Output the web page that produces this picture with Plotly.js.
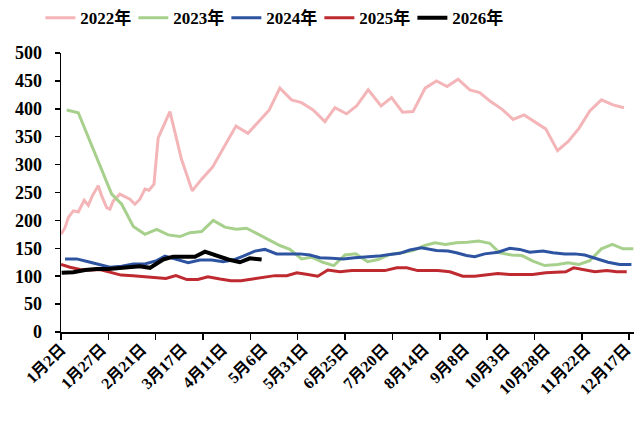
<!DOCTYPE html>
<html><head><meta charset="utf-8">
<script src="https://cdn.plot.ly/plotly-3.0.1.min.js"></script>
<style>html,body{margin:0;padding:0;background:#fff}#chart{width:643px;height:421px}</style>
</head><body><div id="chart"></div>
<script>
// x values are day offsets from 1月2日
const tickLabels = ["1月2日","1月27日","2月21日","3月17日","4月11日","5月6日","5月31日","6月25日","7月20日","8月14日","9月8日","10月3日","10月28日","11月22日","12月17日"];

const days2022 = [0,2.5,4.5,7.6,10.7,14.4,16.9,19.4,23.1,25.2,28.3,30.3,32.4,36.5,38.6,42.7,45.8,48.9,52,54.5,57.6,60.2,67.5,74.6,81.3,87.1,93.8,101.5,108.4,115.8,122.2,129,135.6,142.8,149,156.2,163.5,169.7,176.9,183.1,190.3,198.3,204.8,211.6,218.1,225.6,232.6,239.2,246,253.3,259.4,266.2,273.3,280.1,286.9,293.5,300.3,307.6,314.1,320.9,327.6,334.8,342,348.8];
const vals2022 = [175,187,205,217,215,236,227,244,262,244,223,220,235,247,244,238,229,238,256,254,265,348,395,310,253,274,295,334,369,356,377,398,437,416,411,398,377,402,391,405,434,405,420,394,395,437,450,440,453,434,429,413,399,381,389,376,364,325,341,365,396,416,407,402];

const days2023 = [3.5,10.7,31.4,37.6,44.8,52,59.3,66.4,73.7,79.9,87.1,94.3,101.5,108.5,115,122,128.8,135.6,141.8,149,155.2,162.2,169,175.9,182.7,189.9,196.5,203.7,211,218.1,225.4,231.6,238.2,245,251.8,258.8,265.6,271.8,279.1,285.6,292.4,299.7,307.6,314.1,320.9,327.6,334.8,341.6,348.2,354.6];
const vals2023 = [398,393,247,229,189,175,184,174,171,178,180,200,188,184,186,175,165,155,148,131,134,125,119,138,140,126,130,139,142,146,155,160,157,160,161,163,159,142,138,137,127,119,121,124,121,128,149,157,149,149];

const days2024 = [2.5,9.7,16.9,24.1,30.3,37.6,44.8,52,59.3,64.4,71.6,78.8,86.1,93.3,100.5,107.7,112.9,120.1,126.3,133.6,140.7,148,154.2,160.4,167.6,174.8,182,189.3,196.5,203.7,209.9,216.1,223.3,232.6,239.8,245,251.2,256.3,262.5,270.8,278,284.2,290.4,298.6,304.8,312.1,318.3,324.5,331.7,338.9,346.1,353.4];
const vals2024 = [131,131,126,120,116,118,122,122,128,136,130,124,129,129,126,130,136,145,148,140,140,140,138,133,132,131,133,134,136,139,141,147,151,146,145,142,137,135,140,143,150,148,143,145,142,140,140,138,132,125,121,121];

const days2025 = [0,5.6,11.8,18,24.1,30.3,37.2,44.6,52,58.8,65,71.2,78,84.8,91,98.5,105.3,111.5,118.3,125.1,132.5,139.9,146.1,152.9,159.1,165.3,172.8,180.2,187,194.4,200.6,208,214.2,221,226.6,233.4,240.9,248.9,256.3,263.8,270.6,278,285.4,292.2,300.3,307.7,312.7,317.6,324.5,330.7,338.1,344.3,350.5];
const vals2025 = [121,116,112,111,112,107,102,101,99,97,96,101,94,94,99,95,92,92,95,99,101,101,106,103,100,111,108,110,110,110,110,115,115,110,110,110,108,100,100,103,105,103,103,103,106,108,108,115,112,108,110,108,108];

const days2026 = [0.4,7.6,14.9,22.1,29.3,36.5,43.8,48.9,55.1,63.3,69.5,76.8,83,89.2,96.4,103.6,110.8,117,124.3];
const vals2026 = [106,107,111,113,113,115,117,118,115,130,135,135,135,144,137,130,125,132,130];

const seriesNames = ["2022年","2023年","2024年","2025年","2026年"];
const colors = ["#F4B5B8","#A8D08D","#2E54A1","#BE2A30","#000000"];
const widths = [3,3,3,3,4];
const xs = [days2022,days2023,days2024,days2025,days2026];
const ys = [vals2022,vals2023,vals2024,vals2025,vals2026];

const traces = seriesNames.map((n,i)=>({
  type:'scatter', mode:'lines', name:n, x:xs[i], y:ys[i],
  line:{color:colors[i], width:widths[i]}, hoverinfo:'skip'
}));

const xMax = 355;
const labelVals = tickLabels.map((_,i)=>i*25);
const minorVals = [];
for(let k=0;k<=12;k++) minorVals.push(k*352/12);

const fontFam = 'Liberation Serif, Noto Sans CJK SC, serif';
const layout = {
  width:643, height:421,
  margin:{l:61, r:9, t:53, b:89, autoexpand:false},
  paper_bgcolor:'#fff', plot_bgcolor:'#fff',
  font:{family:fontFam, size:16, color:'#000', weight:'bold'},
  showlegend:true,
  legend:{orientation:'h', x:-0.036, xanchor:'left', y:1.125, yanchor:'middle',
          font:{family:fontFam, size:17, color:'#000', weight:'bold'}, entrywidth:48, entrywidthmode:'pixels',
          itemwidth:30, traceorder:'normal', bgcolor:'rgba(0,0,0,0)'},
  xaxis:{range:[0,xMax], showgrid:false, zeroline:false, showline:true, linecolor:'#000', linewidth:1.5,
         tickmode:'array', tickvals:labelVals, ticktext:tickLabels, tickangle:-45, ticks:'',
         tickfont:{family:fontFam, size:16, color:'#000', weight:'bold'},
         minor:{tickmode:'array', tickvals:minorVals, ticks:'outside', ticklen:6, tickcolor:'#000', tickwidth:1.5, showgrid:false}},
  yaxis:{range:[0,500], showgrid:false, zeroline:false, showline:true, linecolor:'#000', linewidth:1.5,
         tickmode:'linear', tick0:0, dtick:50, ticks:'outside', ticklen:5, tickcolor:'#000', tickwidth:1.5,
         ticklabelstandoff:9,
         tickfont:{family:fontFam, size:18, color:'#000', weight:'bold'}}
};
Plotly.newPlot('chart', traces, layout, {staticPlot:true});
</script></body></html>
